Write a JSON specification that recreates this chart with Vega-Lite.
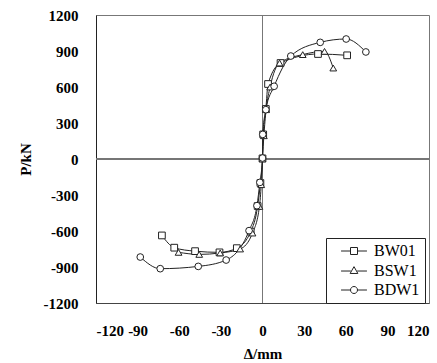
{
  "$schema": "https://vega.github.io/schema/vega-lite/v6.json",
  "width": 333,
  "height": 288,
  "autosize": {"type": "none"},
  "padding": {"left": 96, "top": 15, "right": 8, "bottom": 60},
  "background": "white",
  "config": {
    "view": {"stroke": "#777", "strokeWidth": 1},
    "font": "Liberation Serif",
    "axis": {"grid": false, "ticks": false, "domain": false, "labelOverlap": false, "labelFont": "Liberation Serif", "labelFontWeight": "bold", "labelFontSize": 15, "labelColor": "black", "titleFont": "Liberation Serif", "titleFontWeight": "bold", "titleFontSize": 15, "titleColor": "black", "labelExpr": "'' + datum.value"}
  },
  "data": {"values": [
    {"s": "BW01", "x": -72.5, "y": -637}, {"s": "BW01", "x": -63.6, "y": -739}, {"s": "BW01", "x": -48.6, "y": -768}, {"s": "BW01", "x": -31, "y": -778}, {"s": "BW01", "x": -18.5, "y": -743}, {"s": "BW01", "x": -8.5, "y": -605}, {"s": "BW01", "x": -3.5, "y": -392}, {"s": "BW01", "x": -1.5, "y": -200}, {"s": "BW01", "x": 0, "y": 5}, {"s": "BW01", "x": 0.5, "y": 205}, {"s": "BW01", "x": 2.4, "y": 417}, {"s": "BW01", "x": 4, "y": 625}, {"s": "BW01", "x": 13, "y": 800}, {"s": "BW01", "x": 40, "y": 875}, {"s": "BW01", "x": 61, "y": 864},
    {"s": "BSW1", "x": -60.5, "y": -778}, {"s": "BSW1", "x": -45.6, "y": -795}, {"s": "BSW1", "x": -30.5, "y": -783}, {"s": "BSW1", "x": -16.1, "y": -750}, {"s": "BSW1", "x": -7.2, "y": -617}, {"s": "BSW1", "x": -2.2, "y": -395}, {"s": "BSW1", "x": -0.9, "y": -214}, {"s": "BSW1", "x": 0, "y": 0}, {"s": "BSW1", "x": 1, "y": 194}, {"s": "BSW1", "x": 2.6, "y": 411}, {"s": "BSW1", "x": 5.5, "y": 600}, {"s": "BSW1", "x": 12.3, "y": 800}, {"s": "BSW1", "x": 29, "y": 870}, {"s": "BSW1", "x": 44.7, "y": 897}, {"s": "BSW1", "x": 51, "y": 758},
    {"s": "BDW1", "x": -88.1, "y": -817}, {"s": "BDW1", "x": -73.7, "y": -914}, {"s": "BDW1", "x": -46.3, "y": -895}, {"s": "BDW1", "x": -26.2, "y": -842}, {"s": "BDW1", "x": -9.7, "y": -597}, {"s": "BDW1", "x": -4.0, "y": -389}, {"s": "BDW1", "x": -1.9, "y": -195}, {"s": "BDW1", "x": 0, "y": 8}, {"s": "BDW1", "x": 0.2, "y": 205}, {"s": "BDW1", "x": 2.4, "y": 411}, {"s": "BDW1", "x": 8.4, "y": 606}, {"s": "BDW1", "x": 20.4, "y": 858}, {"s": "BDW1", "x": 41.6, "y": 972}, {"s": "BDW1", "x": 60.3, "y": 1000}, {"s": "BDW1", "x": 74.5, "y": 892}
  ]},
  "encoding": {
    "x": {"field": "x", "type": "quantitative", "scale": {"domain": [-120, 120], "nice": false}, "axis": {"values": [-120, -90, -60, -30, 0, 30, 60, 90, 120], "labelOverlap": false, "labelPadding": 20, "title": "Δ/mm", "titlePadding": 8, "domain": true, "domainColor": "#444"}},
    "y": {"field": "y", "type": "quantitative", "scale": {"domain": [-1200, 1200], "nice": false}, "axis": {"values": [-1200, -900, -600, -300, 0, 300, 600, 900, 1200], "labelOverlap": false, "labelPadding": 18, "title": "P/kN", "titlePadding": 10, "domain": true, "domainColor": "#222"}}
  },
  "layer": [
    {"mark": {"type": "rule", "color": "#777", "strokeWidth": 1}, "encoding": {"x": {"datum": 0, "type": "quantitative"}, "y": null}},
    {"mark": {"type": "rule", "color": "#777", "strokeWidth": 1}, "encoding": {"y": {"datum": 0, "type": "quantitative"}, "x": null}},
    {
      "mark": {"type": "line", "interpolate": "monotone", "color": "#222", "strokeWidth": 1},
      "encoding": {"detail": {"field": "s"}}
    },
    {
      "mark": {"type": "point", "filled": true, "fill": "white", "stroke": "#222", "strokeWidth": 1, "size": 45, "opacity": 1},
      "encoding": {
        "shape": {"field": "s", "type": "nominal", "scale": {"domain": ["BW01", "BSW1", "BDW1"], "range": ["square", "triangle-up", "circle"]}, "legend": null}
      }
    },
    {
      "transform": [{"filter": "datum.x > 1000"}],
      "mark": {"type": "point", "filled": false, "color": "#222", "strokeWidth": 1, "size": 49, "opacity": 1},
      "encoding": {
        "shape": {"field": "s", "type": "nominal", "scale": {"domain": ["BW01", "BSW1", "BDW1"], "range": [
          "M-3.7,0H-1M1,0H3.7M-1,-1H1V1H-1Z",
          "M-3.7,0.15H-0.9M0.9,0.15H3.7M0,-1.1L1.1,0.85H-1.1Z",
          "M-3.7,0H-1M1,0H3.7M1,0A1,1,0,1,1,-1,0A1,1,0,1,1,1,0Z"
        ]}, "legend": {
          "title": null, "orient": "none", "legendX": 230, "legendY": 223,
          "strokeColor": "#222", "fillColor": "white", "padding": 5,
          "labelFont": "Liberation Serif", "labelFontSize": 16, "labelColor": "black",
          "labelExpr": "datum.label + '\u00a0\u00a0\u00a0\u00a0'",
          "symbolSize": 49, "symbolStrokeColor": "#222", "symbolStrokeWidth": 1, "symbolOpacity": 1,
          "symbolOffset": 15, "labelOffset": 12, "rowPadding": 3.5
        }}
      }
    }
  ],
  "resolve": {"scale": {"shape": "independent"}}
}
